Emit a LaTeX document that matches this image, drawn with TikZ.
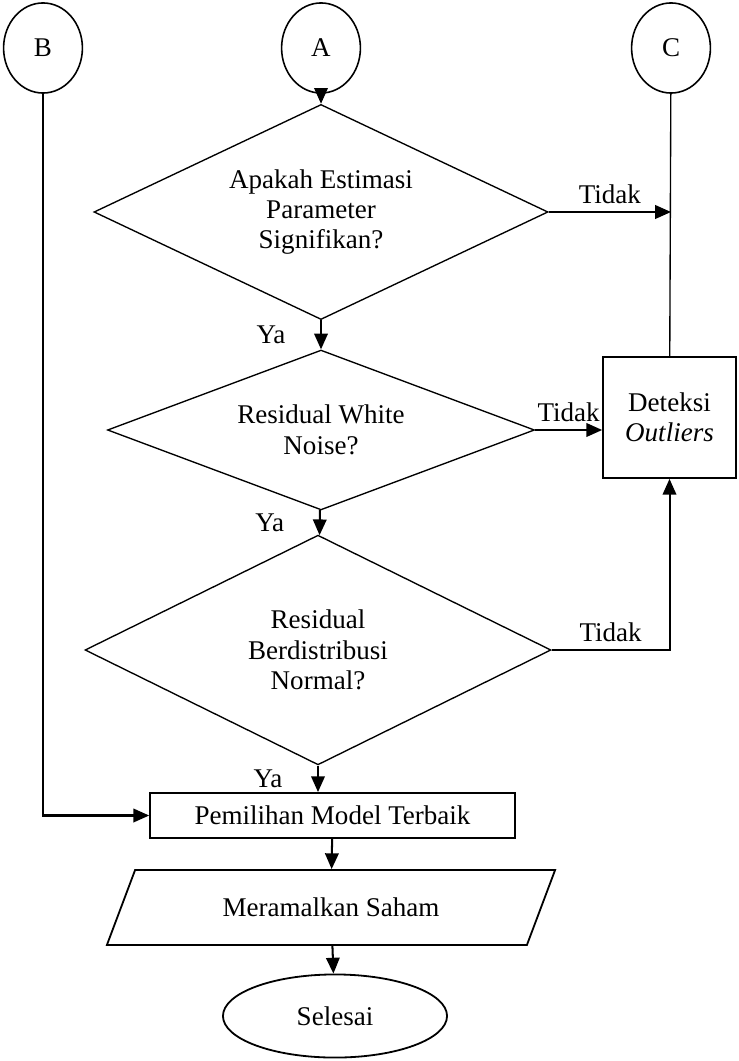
\documentclass[tikz,border=0pt]{standalone}
\usepackage{fontspec}
\setmainfont{Liberation Serif}
\usetikzlibrary{shapes.geometric,arrows.meta}

\tikzset{
  conn/.style={ellipse,draw,line width=0.7pt,minimum width=35pt,minimum height=40pt,inner sep=0pt},
  decision/.style={diamond,draw,line width=0.6pt,align=center,inner sep=0pt},
  process/.style={rectangle,draw,line width=0.8pt,align=center,inner sep=0pt},
  io/.style={trapezium,draw,line width=0.8pt,trapezium left angle=34,trapezium right angle=146,
    trapezium stretches body=true,inner sep=0pt},
  finish/.style={ellipse,draw,line width=0.8pt,inner sep=0pt},
  flow/.style={-{Triangle[length=7pt,width=6pt]},line width=0.9pt}
}

\begin{document}
\begin{tikzpicture}[x=0.444pt,y=-0.444pt,font=\fontsize{12}{13.5}\selectfont]
  \useasboundingbox (0,0) rectangle (738,1061);

  \node[conn] (b) at (43,48) {B};
  \node[conn] (a) at (321,48) {A};
  \node[conn] (c) at (671,48) {C};
  \node[decision,aspect=2.1,minimum width=201.6pt,minimum height=95.5pt] (signif) at (321,212) {Apakah Estimasi\\Parameter\\Signifikan?};
  \node[decision,aspect=2.67,minimum width=189.6pt,minimum height=71pt] (white) at (321,430) {Residual White\\Noise?};
  \node[decision,aspect=2.03,minimum width=206.9pt,minimum height=102pt] (normal) at (318,650) {Residual\\Berdistribusi\\Normal?};
  \node[process,minimum width=59pt,minimum height=53.7pt] (deteksi) at (669.5,417.5) {Deteksi\\\textit{Outliers}};
  \node[process,minimum width=162pt,minimum height=20pt] (pilih) at (332.5,815.5) {Pemilihan Model Terbaik};
  \node[io,minimum width=199pt,minimum height=33.3pt] (ramal) at (331,907.5) {Meramalkan Saham};
  \node[finish,minimum width=99.5pt,minimum height=36.9pt] (selesai) at (335,1016) {Selesai};

  \draw[flow] (a) -- (signif);
  \draw[flow] (signif) -- (white) node[midway,left=12pt] {Ya};
  \draw[flow] (white) -- (normal) node[midway,left=12pt] {Ya};
  \draw[flow] (normal) -- (normal.south |- pilih.north) node[midway,left=12pt] {Ya};
  \draw[flow] (signif.east) -- (signif.east -| c) node[midway,above] {Tidak};
  \draw[line width=0.6pt] (c) -- (deteksi);
  \draw[flow] (white.east) -- (white.east -| deteksi.west) node[midway,above] {Tidak};
  \draw[flow] (normal.east) -| (deteksi.south) node[pos=0.25,above] {Tidak};
  \draw[flow] (b) |- (pilih.west);
  \draw[flow] (pilih) -- (ramal);
  \draw[flow] (ramal) -- (selesai);
\end{tikzpicture}
\end{document}
